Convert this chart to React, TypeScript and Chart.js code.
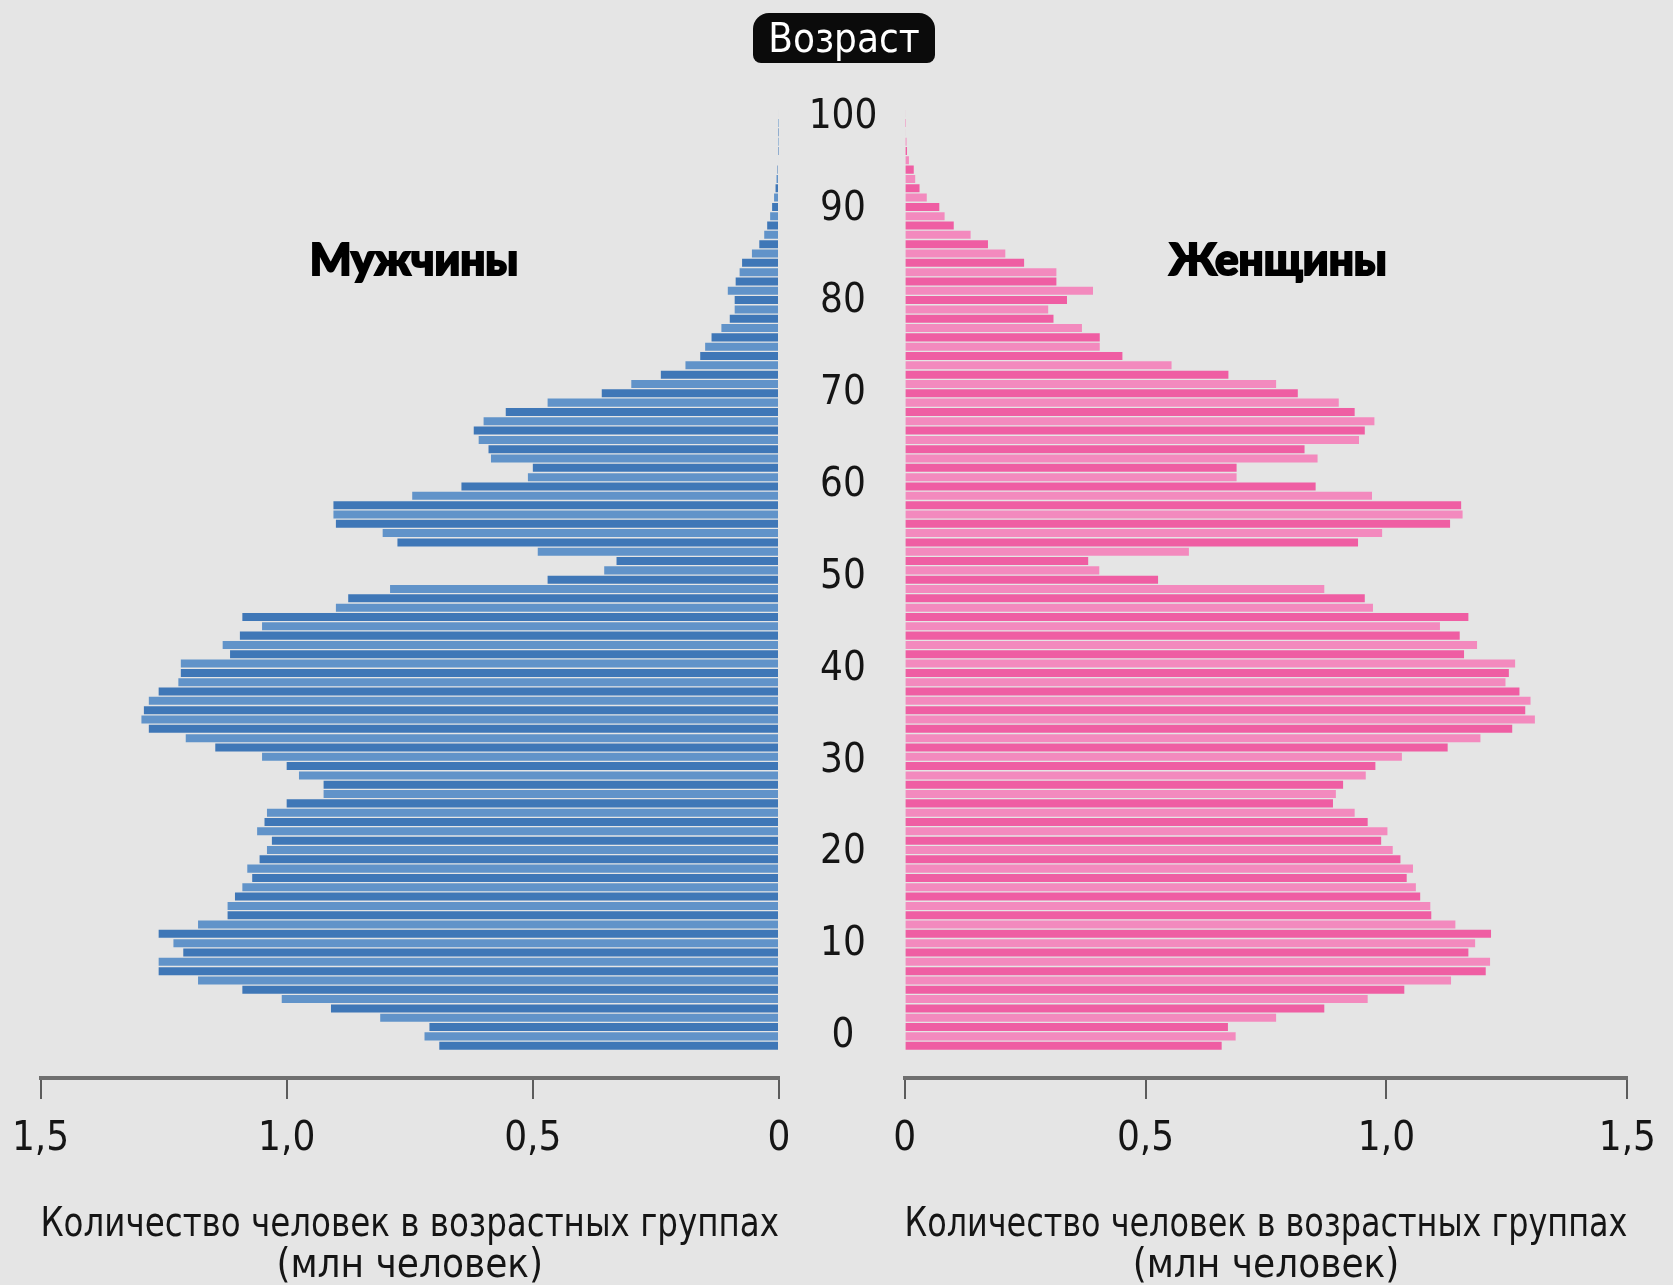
import React, { useEffect, useRef } from 'react';
import { Chart, registerables } from 'chart.js';

Chart.register(...registerables);

// ---------- data ----------
const AGES = [
  0, 1, 2, 3, 4, 5, 6, 7, 8, 9,
  10, 11, 12, 13, 14, 15, 16, 17, 18, 19,
  20, 21, 22, 23, 24, 25, 26, 27, 28, 29,
  30, 31, 32, 33, 34, 35, 36, 37, 38, 39,
  40, 41, 42, 43, 44, 45, 46, 47, 48, 49,
  50, 51, 52, 53, 54, 55, 56, 57, 58, 59,
  60, 61, 62, 63, 64, 65, 66, 67, 68, 69,
  70, 71, 72, 73, 74, 75, 76, 77, 78, 79,
  80, 81, 82, 83, 84, 85, 86, 87, 88, 89,
  90, 91, 92, 93, 94, 95, 96, 97, 98, 99,
  100,
];

// million people, men
const MALE = [
  0.69, 0.72, 0.71, 0.81, 0.91, 1.01, 1.09, 1.18, 1.26, 1.26,
  1.21, 1.23, 1.26, 1.18, 1.12, 1.12, 1.105, 1.09, 1.07, 1.08,
  1.055, 1.04, 1.03, 1.06, 1.045, 1.04, 1.0, 0.925, 0.925, 0.975,
  1.0, 1.05, 1.145, 1.205, 1.28, 1.295, 1.29, 1.28, 1.26, 1.22,
  1.215, 1.215, 1.115, 1.13, 1.095, 1.05, 1.09, 0.9, 0.875, 0.79,
  0.47, 0.355, 0.33, 0.49, 0.775, 0.805, 0.9, 0.905, 0.905, 0.745,
  0.645, 0.51, 0.5, 0.585, 0.59, 0.61, 0.62, 0.6, 0.555, 0.47,
  0.36, 0.3, 0.24, 0.19, 0.16, 0.15, 0.137, 0.117, 0.1, 0.09,
  0.09, 0.104, 0.088, 0.08, 0.075, 0.055, 0.04, 0.03, 0.024, 0.018,
  0.014, 0.01, 0.007, 0.005, 0.003, 0.002, 0.001, 0.001, 0.001, 0.001,
  0.002,
];

// million people, women
const FEMALE = [
  0.658, 0.687, 0.671, 0.771, 0.871, 0.961, 1.037, 1.134, 1.206, 1.215,
  1.17, 1.184, 1.217, 1.143, 1.093, 1.091, 1.07, 1.061, 1.042, 1.055,
  1.029, 1.013, 0.989, 1.002, 0.961, 0.934, 0.889, 0.895, 0.91, 0.957,
  0.977, 1.032, 1.127, 1.195, 1.261, 1.308, 1.288, 1.299, 1.276, 1.247,
  1.254, 1.267, 1.161, 1.188, 1.152, 1.111, 1.17, 0.972, 0.955, 0.871,
  0.526, 0.404, 0.381, 0.59, 0.941, 0.991, 1.132, 1.158, 1.155, 0.97,
  0.853, 0.689, 0.689, 0.857, 0.83, 0.943, 0.955, 0.975, 0.934, 0.901,
  0.816, 0.771, 0.672, 0.554, 0.452, 0.405, 0.405, 0.368, 0.309, 0.298,
  0.337, 0.391, 0.315, 0.315, 0.248, 0.209, 0.173, 0.137, 0.102, 0.083,
  0.072, 0.046, 0.031, 0.022, 0.019, 0.009, 0.005, 0.004, 0.002, 0.001,
  0.002,
];

const AGE_TICKS = [0, 10, 20, 30, 40, 50, 60, 70, 80, 90, 100];
const VALUE_TICKS = [0, 0.5, 1, 1.5];
const AXIS_TITLE = ['Количество человек в возрастных группах', '(млн человек)'];
const MALE_LABEL = 'Мужчины';
const FEMALE_LABEL = 'Женщины';
const AGE_LABEL = 'Возраст';

// ---------- style ----------
const NARROW = '"Liberation Sans Narrow", "DejaVu Sans Condensed", "Arial Narrow", sans-serif';
const HEAVY = 'Lato, Inter, "DejaVu Sans", sans-serif';
const BG = '#e5e5e5';
const INK = '#151515';
const BLUE = ['#3f77b7', '#6193c9'];
const PINK = ['#ef5ea3', '#f38abe'];
const TICK_SIZE = 40;

const fmtValue = (v: number) => (v === 0 ? '0' : v.toFixed(1).replace('.', ','));

export default function App() {
  const leftRef = useRef<HTMLCanvasElement>(null);
  const rightRef = useRef<HTMLCanvasElement>(null);

  useEffect(() => {
    const mctx = document.createElement('canvas').getContext('2d') as CanvasRenderingContext2D;
    mctx.font = `${TICK_SIZE}px ${NARROW}`;
    const widest = Math.max(...AGE_TICKS.map((t) => mctx.measureText(String(t)).width));
    const agePad = Math.max(0, 61.6 - widest / 2);

    const xScale = (reverse: boolean) => ({
      type: 'linear',
      position: 'bottom',
      min: 0,
      max: 1.5,
      reverse,
      afterBuildTicks: (s: any) => {
        s.ticks = VALUE_TICKS.map((v) => ({ value: v }));
      },
      afterFit: (s: any) => {
        s.height = 207;
      },
      ticks: {
        callback: (v: any) => fmtValue(Number(v)),
        color: INK,
        font: { family: NARROW, size: TICK_SIZE },
        padding: 17,
        maxRotation: 0,
        autoSkip: false,
      },
      grid: {
        display: true,
        drawOnChartArea: false,
        drawTicks: true,
        tickLength: 21,
        color: '#5c5c5c',
        lineWidth: 2,
      },
      border: { display: true, color: '#6f6f6f', width: 4 },
      title: {
        display: true,
        text: AXIS_TITLE,
        color: INK,
        font: { family: NARROW, size: 40, lineHeight: 1.025 },
        padding: { top: 0, bottom: -2.5 },
      },
    });

    const yScale = () => ({ type: 'linear', min: -3.466, max: 101.47, display: false, offset: false });

    const dataset = (values: number[], colors: string[]) => ({
      data: values.map((v, i) => ({ x: v, y: AGES[i] })),
      backgroundColor: AGES.map((_, i) => colors[i % 2]),
      borderWidth: 0,
      barPercentage: 0.86,
      categoryPercentage: 1,
      xAxisID: 'x',
      yAxisID: 'y',
    });

    const common = {
      indexAxis: 'y',
      animation: false,
      responsive: false,
      maintainAspectRatio: false,
      plugins: { legend: { display: false }, tooltip: { enabled: false }, title: { display: false } },
    };

    const left = new Chart(leftRef.current as HTMLCanvasElement, {
      type: 'bar',
      data: { datasets: [dataset(MALE, BLUE)] },
      options: {
        ...common,
        layout: { padding: { left: 40.5, right: 21, top: 100, bottom: 0 } },
        scales: { x: xScale(true), y: yScale() },
      },
    } as any);

    const right = new Chart(rightRef.current as HTMLCanvasElement, {
      type: 'bar',
      data: { datasets: [dataset(FEMALE, PINK)] },
      options: {
        ...common,
        layout: { padding: { left: 0, right: 30, top: 100, bottom: 0 } },
        scales: {
          x: xScale(false),
          y: yScale(),
          y2: {
            type: 'linear',
            position: 'left',
            min: -4.459,
            max: 101.9,
            offset: false,
            afterBuildTicks: (s: any) => {
              s.ticks = AGE_TICKS.map((v) => ({ value: v }));
            },
            afterFit: (s: any) => {
              s.width = 125.6;
            },
            ticks: {
              color: INK,
              font: { family: NARROW, size: TICK_SIZE },
              crossAlign: 'center',
              padding: agePad,
              autoSkip: false,
              callback: (v: any) => String(v),
            },
            grid: { display: false, drawTicks: false },
            border: { display: false },
          },
        },
      },
    } as any);

    return () => {
      left.destroy();
      right.destroy();
    };
  }, []);

  const sexLabel = (left: number): React.CSSProperties => ({
    position: 'absolute',
    left,
    top: 236,
    transform: 'translateX(-50%)',
    font: `900 44px ${HEAVY}`,
    lineHeight: '44px',
    color: '#000',
    whiteSpace: 'nowrap',
    WebkitTextStroke: '2px #000',
  });

  return (
    <div
      style={{
        position: 'absolute',
        left: 0,
        top: 0,
        width: 1673,
        height: 1285,
        background: BG,
        overflow: 'hidden',
      }}
    >
      <canvas
        ref={leftRef}
        width={800}
        height={1285}
        style={{ position: 'absolute', left: 0, top: 0, width: 800, height: 1285 }}
      />
      <canvas
        ref={rightRef}
        width={894}
        height={1285}
        style={{ position: 'absolute', left: 779, top: 0, width: 894, height: 1285 }}
      />
      <div
        style={{
          position: 'absolute',
          left: 753,
          top: 13,
          width: 182,
          height: 50,
          background: '#0b0b0b',
          borderRadius: '16px 16px 8px 8px',
          color: '#ffffff',
          font: `40px ${NARROW}`,
          display: 'flex',
          alignItems: 'center',
          justifyContent: 'center',
          lineHeight: '40px',
        }}
      >
        {AGE_LABEL}
      </div>
      <div style={sexLabel(414)}>{MALE_LABEL}</div>
      <div style={sexLabel(1278)}>{FEMALE_LABEL}</div>
    </div>
  );
}
